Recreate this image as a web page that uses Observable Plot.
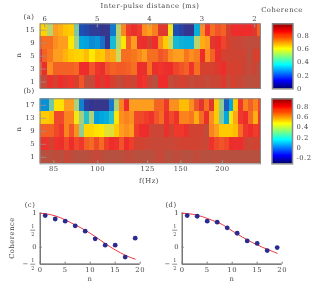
<!DOCTYPE html>
<html><head><meta charset="utf-8">
<script src="https://cdn.jsdelivr.net/npm/d3@7"></script>
<script src="https://cdn.jsdelivr.net/npm/@observablehq/plot@0.6"></script>
<style>
html,body{margin:0;padding:0;background:#fff}
#page{position:relative;width:324px;height:286px;overflow:hidden;font-family:"DejaVu Serif",serif;color:#444;font-size:6.8px;letter-spacing:.5px;filter:blur(0.4px)}
#page>div.slot{position:absolute}
#page svg{display:block;overflow:visible}
.t{position:absolute;white-space:nowrap;transform:translate(-50%,-50%);line-height:1}
.r{transform:translate(-50%,-50%) rotate(-90deg)}
</style></head><body><div id="page"></div>
<script>
// Panel (a): rows n, columns inter-pulse distance 6.09 → 1.89 ms in 0.1 ms steps
const aRows = [15, 9, 5, 3, 1];
const a15 = [.63,.63,.5,.7,.68,.65,.64,.42,.12,.11,.09,.09,.07,.06,.17,.5,.73,.83,.86,.83,.72,.7,.74,.88,.88,.58,.12,.1,.07,.08,.27,.72,.84,.76,.8,.78,.9,.85,.85,.85,.85,.88,.78];
const a9  = [.78,.76,.76,.72,.7,.7,.6,.47,.25,.24,.2,.22,.16,.08,.3,.5,.6,.78,.7,.86,.85,.9,.85,.72,.64,.53,.3,.28,.27,.27,.5,.68,.7,.88,.85,.82,.9,.92,.92,.93,.94,.94,.93];
const a5  = [.85,.78,.75,.7,.7,.67,.64,.63,.63,.66,.6,.65,.64,.7,.68,.52,.76,.76,.75,.73,.7,.76,.76,.8,.78,.72,.7,.7,.75,.72,.74,.85,.72,.78,.86,.9,.91,.91,.91,.91,.95,.9,.9];
const a3  = [.8,.86,.72,.78,.78,.78,.78,.77,.85,.85,.8,.84,.86,.8,.78,.79,.79,.78,.76,.85,.86,.76,.86,.84,.86,.85,.82,.8,.78,.84,.76,.9,.9,.9,.88,.85,.9,.9,.9,.92,.93,.92,.96];
const a1  = [.93,.93,.86,.9,.85,.88,.84,.9,.8,.93,.93,.85,.88,.85,.9,.93,.92,.9,.92,.85,.84,.92,.95,.85,.85,.93,.92,.9,.91,.93,.92,.92,.93,.92,.92,.88,.93,.9,.92,.93,.95,.94,.94];
// Panel (b): rows n, columns period in 0.2 ms steps
const bRows = [17, 13, 9, 5, 1];
const b17 = [-.05,-.05,.2,.46,.46,.58,.58,.3,-.08,-.2,-.22,-.24,-.24,-.24,-.1,.3,.62,.77,.58,.58,.58,.58,.58,.67,.67,.75,.6,.6,.52,.52,.6,.7,.8,.65,.8,.5,.25,-.15,0,.5,.75,.62,.68,.62,.72];
const b13 = [.5,.5,.52,.72,.72,.62,.62,.43,.28,.1,.3,-.03,0,.02,.1,.44,.6,.62,.6,.72,.72,.74,.76,.7,.66,.78,.72,.76,.62,.62,.64,.55,.66,.78,.6,.5,.22,0,.43,.56,.75,.77,.66,.55,.75];
const b9  = [.68,.68,.68,.72,.75,.62,.7,.6,.25,.48,.48,.46,.45,.4,.39,.5,.58,.6,.58,.74,.77,.77,.85,.85,.85,.78,.84,.75,.75,.78,.84,.84,.84,.88,.62,.58,.5,.5,.5,.52,.66,.75,.77,.74,.8];
const b5  = [.8,.76,.84,.76,.78,.72,.77,.72,.75,.68,.66,.72,.66,.74,.77,.76,.7,.77,.74,.84,.84,.85,.86,.86,.86,.86,.86,.85,.84,.84,.84,.84,.85,.86,.76,.72,.7,.72,.77,.78,.77,.84,.86,.84,.84];
const b1  = [.9,.9,.9,.88,.9,.86,.88,.9,.9,.93,.88,.87,.88,.9,.9,.92,.9,.88,.88,.9,.9,.9,.9,.87,.86,.9,.92,.88,.93,.9,.9,.87,.9,.9,.9,.89,.91,.93,.92,.94,.93,.95,.9,.9,.92];
// Panels (c) and (d)
const nPoints = [1,3,5,7,9,11,13,15,17,19];
const cPoints = [.93,.83,.765,.63,.47,.245,.06,.06,-.29,.265];
const dPoints = [.93,.91,.765,.735,.57,.41,.185,.11,-.1,-.01];
const nLine   = [0,2,4,6,8,10,12,14,16,18,19];
const cLine   = [1,.96,.87,.73,.58,.41,.21,.01,-.16,-.3,-.35];
const dLine   = [1,.97,.9,.79,.67,.48,.3,.14,0,-.12,-.18];
// Colours
const cellStops = [.03,.08,.12,.17,.25,.32,.42,.5,.52,.6,.65,.7,.75,.8,.85,.9,.95];
const bCellStops = [-.28,-.22,-.17,-.1,0,.09,.22,.32,.35,.45,.51,.58,.64,.7,.77,.83,.9];
const cellColors = ["#3c3c8c","#35358f","#1c50b4","#1478cc","#00a8e0","#20c0d0","#80c8a0","#b8d470","#ccd860","#ffe800","#ffc400","#ff9d1e","#f7761e","#f15428","#ee2c2c","#d5402f","#b85040"];
const jetStops = [0,.11,.36,.61,.86,1];
const jetColors = ["#00007f","#0000ff","#00ffff","#ffff00","#ff0000","#7f0000"];
const ink = "#444";
const page = document.getElementById("page");
const font = {fontFamily:'"DejaVu Serif",serif',fontSize:"6.8px",letterSpacing:".5px",background:"transparent",color:ink};

function place(svg,left,top){const s=document.createElement("div");s.className="slot";s.style.left=left+"px";s.style.top=top+"px";s.appendChild(svg);page.appendChild(s);}
function label(text,x,y,rot){const d=document.createElement("div");d.className="t"+(rot?" r":"");d.textContent=text;d.style.left=x+"px";d.style.top=y+"px";page.appendChild(d);}

function heat(rows,series,x1,x2,colorDomain,xOpts,axis,top,height,mt,mb){
  const cells = rows.flatMap((n,r)=>series[r].map((v,i)=>({n,v,x1:x1(i),x2:x2(i)})));
  return place(Plot.plot({
    width:324,height,marginLeft:39.6,marginRight:64,marginTop:mt,marginBottom:mb,style:font,
    x:xOpts,
    y:{type:"band",domain:rows,padding:0,round:false,axis:null},
    color:{type:"linear",domain:colorDomain,range:cellColors,clamp:true},
    marks:[
      Plot.barX(cells,{x1:"x1",x2:"x2",y:"n",fill:"v",clip:true,shapeRendering:"crispEdges"}),
      Plot.ruleY(rows,{y:d=>d,x1:xOpts.domain[0],x2:xOpts.domain[0]+(xOpts.domain[1]-xOpts.domain[0])*0.03,stroke:"#999",strokeOpacity:.7}),
      Plot.axisY({domain:rows,tickSize:0,tickPadding:5,label:null,anchor:"left"}),
      axis,
      Plot.frame({stroke:"#888",strokeWidth:1})
    ]}),0,top);
}

const timeAxis = Plot.axisX({anchor:"top",ticks:[6,5,4,3,2],tickFormat:d=>d,tickSize:-3,tickPadding:6,label:null,stroke:"#999"});
heat(aRows,[a15,a9,a5,a3,a1],i=>6.09-.1*i+.05,i=>6.09-.1*i-.05,cellStops,
  {domain:[6.09,1.89]},timeAxis,0,100,23.3,12);

const freqs = [85,100,125,150,200];
const freqAxis = Plot.axisX({anchor:"bottom",ticks:freqs.map(f=>1000/f),tickFormat:p=>Math.round(1000/p),tickSize:-3,tickPadding:5,label:null,stroke:"#999"});
heat(bRows,[b17,b13,b9,b5,b1],i=>12.337-.2*i,i=>12.337-.2*(i+1),bCellStops,
  {domain:[12.314,3.474]},freqAxis,90,90,8.3,16.7);

function colorbar(domain,ticks,left,top,mt,mb){
  const [lo,hi]=domain, n=64, step=(hi-lo)/n;
  const levels=d3.range(n).map(i=>lo+i*step);
  place(Plot.plot({
    width:74,height:90,marginLeft:left,marginRight:74-left-20.5,marginTop:mt,marginBottom:mb,style:font,
    x:{axis:null},
    y:{domain,axis:null},
    color:{type:"linear",domain:jetStops.map(t=>lo+t*(hi-lo)),range:jetColors},
    marks:[
      Plot.rectY(levels,{y1:d=>d,y2:d=>d+step,fill:d=>d,shapeRendering:"crispEdges"}),
      Plot.axisY({anchor:"right",ticks,tickFormat:d=>d<0?"-"+(-d):String(d),tickSize:0,tickPadding:4,label:null}),
      Plot.frame({stroke:"#888",strokeWidth:1.5})
    ]}),250,top);
}
colorbar([0,.98],[0,.2,.4,.6,.8],22,10,13.3,11.7);
colorbar([-.32,.96],[-.2,0,.2,.4,.6,.8],21.5,90,8.3,16.7);

function decay(points,line,left){
  const half=[.5,-.5];
  place(Plot.plot({
    width:160,height:96,marginLeft:39.7,marginRight:20.3,marginTop:22.7,marginBottom:22.3,style:font,
    x:{domain:[0,20],axis:null},
    y:{domain:[-.5,1],axis:null},
    marks:[
      Plot.ruleX([0],{stroke:"#555",strokeWidth:1.2}),
      Plot.ruleY([-.5],{stroke:"#555",strokeWidth:1.2}),
      Plot.axisX({anchor:"bottom",ticks:[0,5,10,15,20],tickSize:-2,tickPadding:5,label:null,stroke:"#777"}),
      Plot.axisY({anchor:"left",ticks:[1,0],tickFormat:d=>d,tickSize:-2,tickPadding:5,label:null,stroke:"#777"}),
      Plot.text(half,{y:d=>d,frameAnchor:"left",text:()=>"1",dx:-7,dy:-3.8,fontSize:5,fill:ink,textAnchor:"middle"}),
      Plot.text(half,{y:d=>d,frameAnchor:"left",text:()=>"2",dx:-7,dy:3.8,fontSize:5,fill:ink,textAnchor:"middle"}),
      Plot.ruleY(half,{y:d=>d,x1:-1.9,x2:-.9,stroke:ink,strokeWidth:.6}),
      Plot.text([-.5],{y:d=>d,frameAnchor:"left",text:()=>"\u2212",dx:-14.5,fontSize:6.8,fill:ink,textAnchor:"middle"}),
      Plot.line(nLine.map((n,i)=>({n,v:line[i]})),{x:"n",y:"v",stroke:"#e8383c",strokeWidth:1,curve:"monotone-x"}),
      Plot.dot(nPoints.map((n,i)=>({n,v:points[i]})),{x:"n",y:"v",r:2.4,fill:"#2a2a90",stroke:"none"})
    ]}),left,190);
}
decay(cPoints,cLine,0);
decay(dPoints,dLine,142);

label("Inter-pulse distance (ms)",150,6);
label("Coherence",282,9.5);
label("(a)",29,16.5);
label("(b)",29,91);
label("(c)",30,205);
label("(d)",171,205);
label("n",19,55,true);
label("n",19,129,true);
label("f(Hz)",149,181);
label("Coherence",12,238,true);
label("n",90,279);
label("n",232,279);
</script></body></html>
